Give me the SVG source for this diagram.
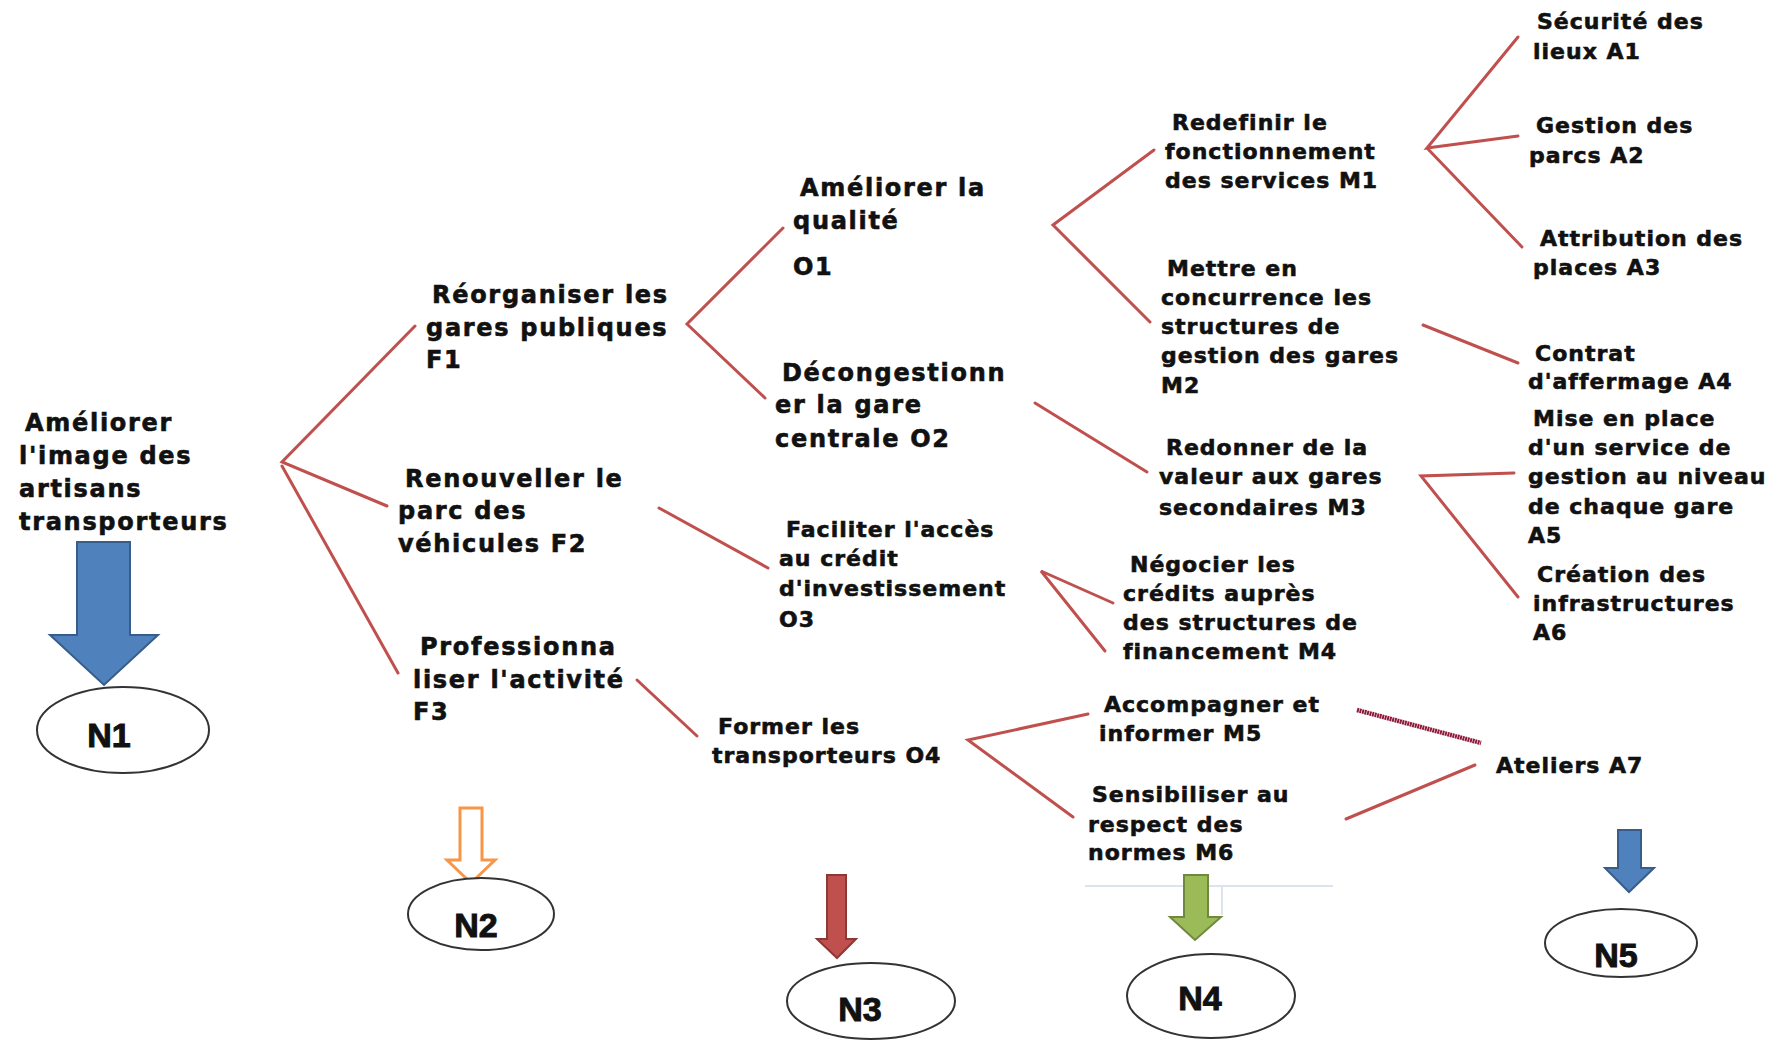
<svg xmlns="http://www.w3.org/2000/svg" width="1787" height="1040" viewBox="0 0 1787 1040">
<style>
  text { font-family: "DejaVu Sans", Verdana, sans-serif; font-weight: bold; fill: #111; stroke: #111; stroke-width: 0.6px; }
  .big { font-size: 24px; letter-spacing: 1.7px; }
  .med { font-size: 22px; letter-spacing: 1.0px; }
  .nl { font-family: "Liberation Sans", Arial, sans-serif; font-size: 34px; text-anchor: middle; letter-spacing: 0; stroke-width: 1px; }
  .link { stroke: #c0504d; stroke-width: 3; fill: none; stroke-linecap: round; }
  .dark { stroke: #8e1838; stroke-width: 4.5; fill: none; stroke-dasharray: 2 0.6; }
  .ell { fill: #fff; stroke: #333; stroke-width: 2; }
</style>
<rect width="1787" height="1040" fill="#fff"/>

<g id="connectors">
  <path class="link" d="M415,326 L282,462 L387,506 M282,466 L398,673"/>
  <path class="link" d="M783,228 L687,324 L765,398"/>
  <path class="link" d="M659,508 L768,568"/>
  <path class="link" d="M637,680 L697,736"/>
  <path class="link" d="M1154,150 L1053,225 L1150,322"/>
  <path class="link" d="M1035,403 L1147,472"/>
  <path class="link" d="M1113,603 L1041,571 L1105,651"/>
  <path class="link" d="M1088,714 L968,740 L1073,817"/>
  <path class="link" d="M1518,37 L1427,148 L1518,136 M1427,148 L1522,247"/>
  <path class="link" d="M1423,325 L1518,363"/>
  <path class="link" d="M1514,473 L1421,476 L1518,597"/>
  <path class="dark" d="M1357,710 L1481,743"/>
  <path class="link" d="M1346,819 L1475,765"/>
</g>

<g id="root">
  <text class="big" x="25" y="431">Améliorer</text>
  <text class="big" x="19" y="464">l'image des</text>
  <text class="big" x="19" y="497">artisans</text>
  <text class="big" x="19" y="530">transporteurs</text>
</g>

<g id="F1">
  <text class="big" x="432" y="303">Réorganiser les</text>
  <text class="big" x="426" y="336">gares publiques</text>
  <text class="big" x="426" y="368">F1</text>
</g>
<g id="F2">
  <text class="big" x="405" y="487">Renouveller le</text>
  <text class="big" x="398" y="519">parc des</text>
  <text class="big" x="398" y="552">véhicules F2</text>
</g>
<g id="F3">
  <text class="big" x="420" y="655">Professionna</text>
  <text class="big" x="413" y="688">liser l'activité</text>
  <text class="big" x="413" y="720">F3</text>
</g>

<g id="O1">
  <text class="big" x="800" y="196">Améliorer la</text>
  <text class="big" x="793" y="229">qualité</text>
  <text class="big" x="793" y="275">O1</text>
</g>
<g id="O2">
  <text class="big" x="782" y="381">Décongestionn</text>
  <text class="big" x="775" y="413">er la gare</text>
  <text class="big" x="775" y="447">centrale O2</text>
</g>
<g id="O3">
  <text class="med" x="786" y="537">Faciliter l'accès</text>
  <text class="med" x="779" y="566">au crédit</text>
  <text class="med" x="779" y="596">d'investissement</text>
  <text class="med" x="779" y="627">O3</text>
</g>
<g id="O4">
  <text class="med" x="718" y="734">Former les</text>
  <text class="med" x="712" y="763">transporteurs  O4</text>
</g>

<g id="M1">
  <text class="med" x="1172" y="130">Redefinir le</text>
  <text class="med" x="1165" y="159">fonctionnement</text>
  <text class="med" x="1165" y="188">des services M1</text>
</g>
<g id="M2">
  <text class="med" x="1167" y="276">Mettre en</text>
  <text class="med" x="1161" y="305">concurrence les</text>
  <text class="med" x="1161" y="334">structures de</text>
  <text class="med" x="1161" y="363">gestion des gares</text>
  <text class="med" x="1161" y="393">M2</text>
</g>
<g id="M3">
  <text class="med" x="1166" y="455">Redonner de la</text>
  <text class="med" x="1159" y="484">valeur aux gares</text>
  <text class="med" x="1159" y="515">secondaires  M3</text>
</g>
<g id="M4">
  <text class="med" x="1130" y="572">Négocier les</text>
  <text class="med" x="1123" y="601">crédits auprès</text>
  <text class="med" x="1123" y="630">des structures de</text>
  <text class="med" x="1123" y="659">financement M4</text>
</g>
<g id="M5">
  <text class="med" x="1104" y="712">Accompagner et</text>
  <text class="med" x="1099" y="741">informer M5</text>
</g>
<g id="M6">
  <text class="med" x="1092" y="802">Sensibiliser au</text>
  <text class="med" x="1088" y="832">respect des</text>
  <text class="med" x="1088" y="860">normes M6</text>
</g>

<g id="A1">
  <text class="med" x="1537" y="29">Sécurité des</text>
  <text class="med" x="1533" y="59">lieux A1</text>
</g>
<g id="A2">
  <text class="med" x="1536" y="133">Gestion des</text>
  <text class="med" x="1529" y="163">parcs A2</text>
</g>
<g id="A3">
  <text class="med" x="1540" y="246">Attribution des</text>
  <text class="med" x="1533" y="275">places A3</text>
</g>
<g id="A4">
  <text class="med" x="1535" y="361">Contrat</text>
  <text class="med" x="1528" y="389">d'affermage  A4</text>
</g>
<g id="A5">
  <text class="med" x="1533" y="426">Mise en place</text>
  <text class="med" x="1528" y="455">d'un service de</text>
  <text class="med" x="1528" y="484">gestion au niveau</text>
  <text class="med" x="1528" y="514">de chaque gare</text>
  <text class="med" x="1528" y="543">A5</text>
</g>
<g id="A6">
  <text class="med" x="1537" y="582">Création des</text>
  <text class="med" x="1533" y="611">infrastructures</text>
  <text class="med" x="1533" y="640">A6</text>
</g>
<g id="A7">
  <text class="med" x="1496" y="773">Ateliers A7</text>
</g>

<g id="N1">
  <polygon points="77,542 130,542 130,635 158,635 104,685 50,635 77,635" fill="#4f81bd" stroke="#385d8a" stroke-width="2"/>
  <ellipse class="ell" cx="123" cy="730" rx="86" ry="43"/>
  <text class="nl" x="109" y="747">N1</text>
</g>
<g id="N2">
  <polygon points="460,808 482,808 482,860 495,860 471,883 447,860 460,860" fill="#fff" stroke="#f79646" stroke-width="3"/>
  <ellipse class="ell" cx="481" cy="914" rx="73" ry="36"/>
  <text class="nl" x="476" y="937">N2</text>
</g>
<g id="N3">
  <polygon points="827,875 846,875 846,939 856,939 837,958 817,939 827,939" fill="#c0504d" stroke="#8c3836" stroke-width="2"/>
  <ellipse class="ell" cx="871" cy="1001" rx="84" ry="38"/>
  <text class="nl" x="860" y="1021">N3</text>
</g>
<g id="N4">
  <path d="M1085,886 L1333,886 M1222,886 L1222,915" stroke="#dde3ee" stroke-width="2" fill="none"/>
  <polygon points="1184,875 1208,875 1208,917 1221,917 1195,940 1170,917 1184,917" fill="#9bbb59" stroke="#71893f" stroke-width="2"/>
  <ellipse class="ell" cx="1211" cy="996" rx="84" ry="42"/>
  <text class="nl" x="1200" y="1010">N4</text>
</g>
<g id="N5">
  <polygon points="1618,830 1641,830 1641,868 1654,868 1629,892 1605,868 1618,868" fill="#4f81bd" stroke="#385d8a" stroke-width="2"/>
  <ellipse class="ell" cx="1621" cy="943" rx="76" ry="34"/>
  <text class="nl" x="1616" y="967">N5</text>
</g>
</svg>
